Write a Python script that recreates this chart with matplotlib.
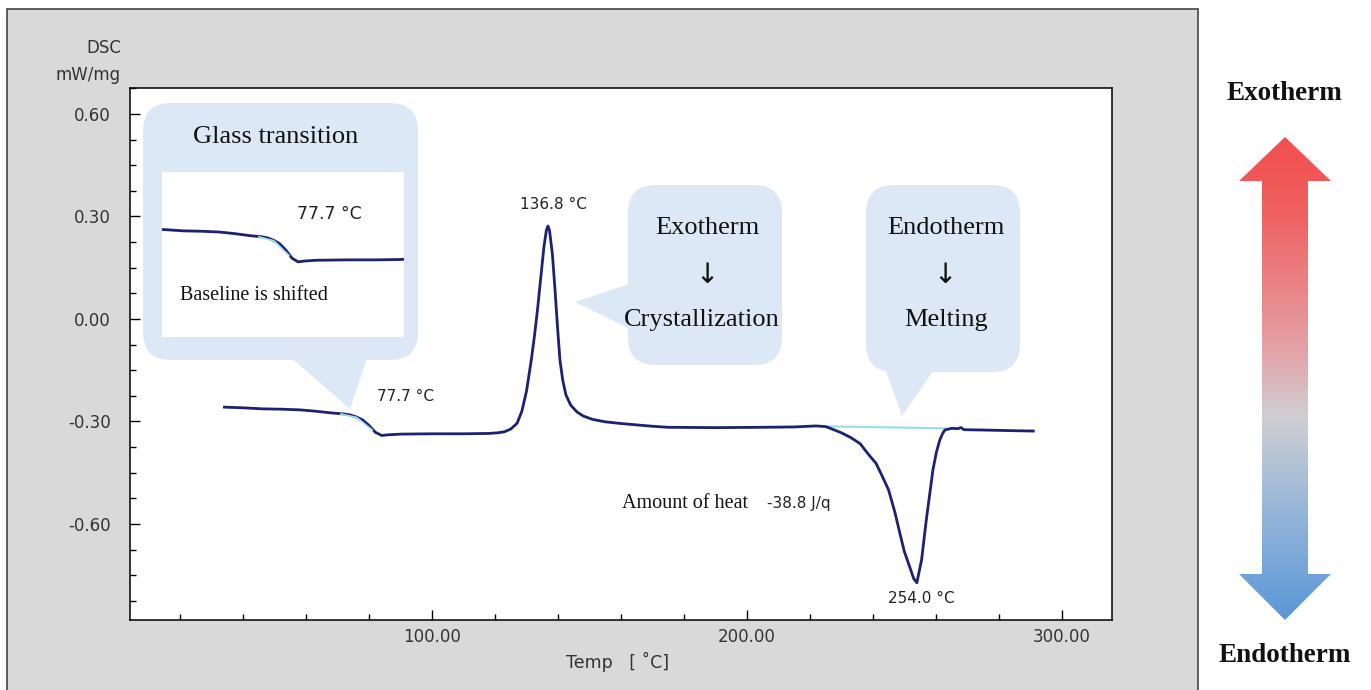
import numpy as np
import matplotlib.pyplot as plt
from matplotlib.patches import FancyBboxPatch, Polygon, Rectangle
from matplotlib.colors import LinearSegmentedColormap
from matplotlib.ticker import MultipleLocator, FormatStrFormatter

plt.rcParams['axes.unicode_minus'] = False

# DSC curve (temperature in C, heat flow in mW/mg)
temp = [34, 40, 46, 52, 58, 63, 68, 72, 74, 76, 78, 80, 82, 84, 86, 90, 100,
        110, 118, 121, 123, 125, 127, 128.5, 130, 131.5, 132.5, 133.5, 134.5,
        135.5, 136.3, 136.8, 137.3, 138.2, 139.0, 139.8, 140.6, 141.5, 142.5,
        144, 146, 148, 151, 155, 160, 165, 170, 175, 190, 205, 215, 222, 225,
        226.5, 230, 233, 236, 238.5, 241, 243, 245, 247, 248.6, 250, 251.7,
        253, 254, 255.5, 257, 259.1, 260.2, 261.3, 262.2, 262.9, 265, 267,
        268, 269, 275, 285, 291]
dsc = [-0.258, -0.260, -0.263, -0.264, -0.266, -0.270, -0.275, -0.278,
       -0.281, -0.287, -0.296, -0.312, -0.332, -0.341, -0.339, -0.337, -0.336,
       -0.336, -0.335, -0.333, -0.330, -0.322, -0.305, -0.270, -0.210, -0.120,
       -0.050, 0.030, 0.120, 0.210, 0.260, 0.272, 0.258, 0.190, 0.090, -0.020,
       -0.120, -0.180, -0.222, -0.252, -0.272, -0.284, -0.294, -0.301, -0.306,
       -0.310, -0.314, -0.317, -0.318, -0.317, -0.316, -0.313, -0.315, -0.320,
       -0.333, -0.347, -0.365, -0.395, -0.422, -0.460, -0.500, -0.565, -0.627,
       -0.680, -0.725, -0.760, -0.772, -0.705, -0.588, -0.442, -0.390, -0.354,
       -0.335, -0.325, -0.320, -0.321, -0.318, -0.324, -0.325, -0.327, -0.328]

# analysis helper lines (light blue)
tg_t = [71, 76, 81]
tg_y = [-0.278, -0.288, -0.325]
base_t = [224, 263]
base_y = [-0.314, -0.320]

xticks = [100, 200, 300]
yticks = [-0.60, -0.30, 0.00, 0.30, 0.60]

curve_col = '#1c2170'
cyan = '#9edcec'
bubble = '#dce8f5'
serif = ['Liberation Serif', 'DejaVu Serif']

W, H = 1371, 690
fig = plt.figure(figsize=(13.71, 6.90), dpi=100)
fig.patch.set_facecolor('white')

# background layer in pixel coordinates
bg = fig.add_axes([0, 0, 1, 1])
bg.set_xlim(0, W)
bg.set_ylim(H, 0)
bg.axis('off')
bg.set_zorder(0)
bg.add_patch(Rectangle((7, 9), 1191, 690, facecolor='#d9d9d9',
                       edgecolor='#444444', lw=1.2))

# gradient double arrow
cmap = LinearSegmentedColormap.from_list('exo_endo', [
    (0.0, '#f24f4f'), (0.15, '#f05f5f'), (0.45, '#e3a4aa'),
    (0.58, '#cfcfd2'), (0.8, '#8fb2da'), (1.0, '#5896d6')])
grad = np.linspace(0, 1, 256).reshape(-1, 1)
im = bg.imshow(grad, cmap=cmap, aspect='auto',
               extent=(1238, 1332, 622, 135), zorder=2)
arrow = Polygon([(1285, 137), (1331, 181), (1308, 181), (1308, 574),
                 (1331, 574), (1285, 620), (1239, 574), (1262, 574),
                 (1262, 181), (1239, 181)], closed=True,
                facecolor='none', edgecolor='none', transform=bg.transData)
bg.add_patch(arrow)
im.set_clip_path(arrow)
bg.text(1284, 93, 'Exotherm', family=serif, fontsize=19.5, weight='bold',
        ha='center', va='center', color='#111111')
bg.text(1285, 656, 'Endotherm', family=serif, fontsize=19.5, weight='bold',
        ha='center', va='center', color='#111111')
bg.text(121, 48, 'DSC', fontsize=12, ha='right', va='center', color='#333333')
bg.text(121, 75, 'mW/mg', fontsize=12, ha='right', va='center', color='#333333')
bg.text(618, 662, 'Temp   [ ˚C]', fontsize=12.5, ha='center', va='center',
        color='#333333')

# main DSC axes
ax = fig.add_axes([130 / W, 1 - 620 / H, 982 / W, 532 / H])
ax.set_zorder(1)
ax.set_facecolor('white')
ax.plot(base_t, base_y, color=cyan, lw=1.6, zorder=2)
ax.plot(temp, dsc, color=curve_col, lw=2, zorder=3)
ax.plot(tg_t, tg_y, color=cyan, lw=1.2, zorder=4)
ax.set_xlim(4, 316)
ax.set_ylim(-0.881, 0.676)
ax.set_xticks(xticks)
ax.set_yticks(yticks)
ax.xaxis.set_major_formatter(FormatStrFormatter('%.2f'))
ax.yaxis.set_major_formatter(FormatStrFormatter('%.2f'))
ax.xaxis.set_minor_locator(MultipleLocator(20))
ax.yaxis.set_minor_locator(MultipleLocator(0.075))
ax.tick_params(which='both', direction='in', colors='black',
               labelcolor='#333333', labelsize=12, width=1)
ax.tick_params(which='major', length=7, pad=6)
ax.tick_params(which='minor', length=4)
ax.tick_params(axis='y', pad=14)
for s in ax.spines.values():
    s.set_linewidth(1.1)

ax.text(82.5, -0.228, '77.7 °C', fontsize=11, va='center', color='#222222')
ax.text(138.4, 0.334, '136.8 °C', fontsize=11, ha='center', va='center',
        color='#222222')
ax.text(255.5, -0.817, '254.0 °C', fontsize=11, ha='center', va='center',
        color='#222222')
ax.text(160.3, -0.541, 'Amount of heat', family=serif, fontsize=14.5,
        va='center', color='#111111')
ax.text(206.5, -0.541, '-38.8 J/q', fontsize=11, va='center', color='#222222')

# callout bubbles in pixel coordinates
ov = fig.add_axes([0, 0, 1, 1])
ov.set_xlim(0, W)
ov.set_ylim(H, 0)
ov.axis('off')
ov.patch.set_alpha(0)
ov.set_zorder(2)


def callout(x0, y0, x1, y1, tail):
    ov.add_patch(FancyBboxPatch((x0 + 28, y0 + 28), x1 - x0 - 56, y1 - y0 - 56,
                                boxstyle='round,pad=28', facecolor=bubble,
                                edgecolor='none'))
    ov.add_patch(Polygon(tail, closed=True, facecolor=bubble, edgecolor='none'))


callout(143, 103, 418, 360, [(288, 355), (350, 409), (368, 355)])
callout(628, 185, 782, 365, [(632, 283), (575, 302), (632, 330)])
callout(866, 185, 1020, 372, [(885, 368), (902, 416), (935, 368)])

ov.add_patch(Rectangle((162, 172), 242, 165, facecolor='white',
                       edgecolor='none'))
ov.text(276, 137, 'Glass transition', family=serif, fontsize=19,
        ha='center', va='center', color='#111111')
ov.text(329, 214, '77.7 °C', fontsize=12.5, ha='center', va='center',
        color='#222222')
ov.text(180, 295, 'Baseline is shifted', family=serif, fontsize=14.5,
        va='center', color='#111111')
for x, y, s in [(707, 228, 'Exotherm'), (702, 320, 'Crystallization'),
                (946, 228, 'Endotherm'), (946, 320, 'Melting')]:
    ov.text(x, y, s, family=serif, fontsize=19, ha='center', va='center',
            color='#111111')
for x in (707, 945):
    ov.text(x, 275, '↓', fontsize=20, ha='center', va='center',
            color='#111111')

# zoomed view of the glass transition inside the bubble
ins = fig.add_axes([162 / W, 1 - 337 / H, 242 / W, 165 / H])
ins.set_zorder(3)
ins.patch.set_alpha(0)
ins.plot(temp, dsc, color=curve_col, lw=2)
ins.plot(tg_t, tg_y, color=cyan, lw=1.2)
ins.set_xlim(39, 119)
ins.set_ylim(-0.53, -0.115)
ins.axis('off')

fig.savefig('out.png', dpi=100)
